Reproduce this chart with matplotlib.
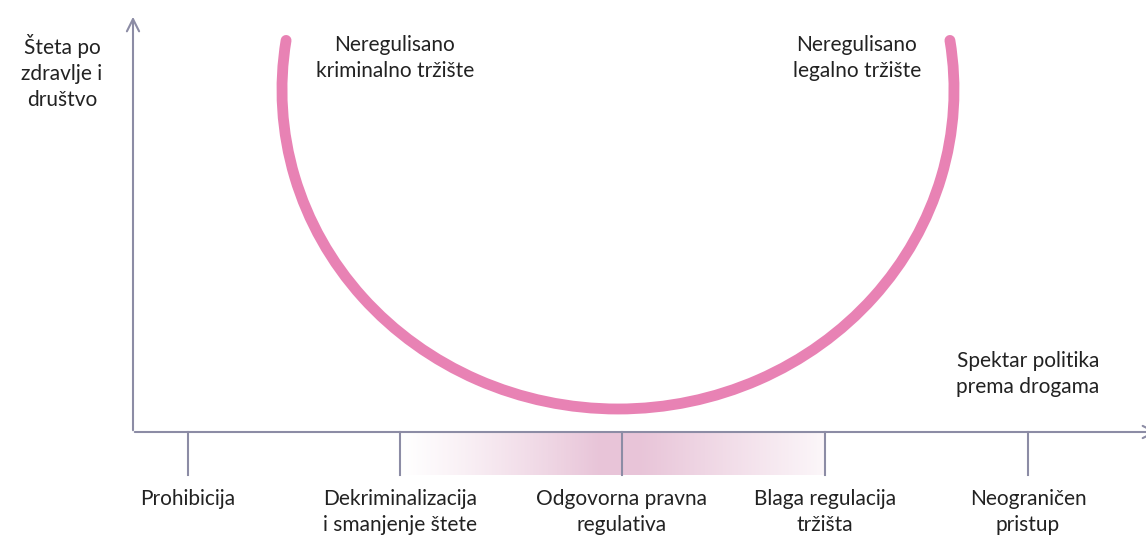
import numpy as np
import matplotlib
matplotlib.use('Agg')
import matplotlib.pyplot as plt
from matplotlib.patches import Arc

plt.rcParams['font.family'] = ['Lato', 'DejaVu Sans']

# policy spectrum (x positions in picture units, y grows downward)
policies = ['Prohibicija', 'Dekriminalizacija\ni smanjenje štete', 'Odgovorna pravna\nregulativa',
            'Blaga regulacija\ntržišta', 'Neograničen\npristup']
policy_x = [188, 400, 622, 825, 1028]

# harm curve: ellipse arc (center, size, angles)
curve_center = (618, 90)
curve_size = (672, 638)
curve_angles = (-8.5, 188.5)

axis_col = '#8c8ca5'
pink = '#e882b4'
band_col = (0.91, 0.77, 0.85)
txt_col = '#222222'
fs = 15

fig = plt.figure(figsize=(11.46, 5.39), dpi=100)
ax = fig.add_axes([0, 0, 1, 1])
ax.set_xlim(0, 1146)
ax.set_ylim(539, 0)
ax.axis('off')

# gradient band
gx = np.linspace(policy_x[1], policy_x[3], 400)
left = np.clip((gx - 400) / 200, 0, 1) ** 1.2
right = np.clip(1 - (gx - 640) / 215, 0.12, 1)
alpha = np.where(gx < 610, left, right)
img = np.zeros((2, gx.size, 4))
img[..., 0], img[..., 1], img[..., 2] = band_col
img[..., 3] = alpha
ax.imshow(img, extent=(policy_x[1], policy_x[3], 475, 432), aspect='auto', zorder=1)

# axes
ax.annotate('', xy=(133, 14), xytext=(133, 433), annotation_clip=False,
            arrowprops=dict(arrowstyle='->', color=axis_col, lw=1.5, mutation_scale=22))
ax.annotate('', xy=(1160, 432), xytext=(132, 432), annotation_clip=False,
            arrowprops=dict(arrowstyle='->', color=axis_col, lw=1.5, mutation_scale=22))

for x, lab in zip(policy_x, policies):
    ax.plot([x, x], [432, 475], color=axis_col, lw=1.5, zorder=2)
    ax.text(x, 489, lab, ha='center', va='top', fontsize=fs, color=txt_col, linespacing=1.4)

# curve
arc = Arc(curve_center, curve_size[0], curve_size[1], theta1=curve_angles[0], theta2=curve_angles[1],
          color=pink, lw=7.8, capstyle='round', zorder=3)
ax.add_patch(arc)

ax.text(62, 72, 'Šteta po\nzdravlje i\ndruštvo', ha='center', va='center', fontsize=fs,
        color=txt_col, linespacing=1.4)
ax.text(395, 58, 'Neregulisano\nkriminalno tržište', ha='center', va='center', fontsize=fs,
        color=txt_col, linespacing=1.4)
ax.text(857, 58, 'Neregulisano\nlegalno tržište', ha='center', va='center', fontsize=fs,
        color=txt_col, linespacing=1.4)
ax.text(1028, 374, 'Spektar politika\nprema drogama', ha='center', va='center', fontsize=fs,
        color=txt_col, linespacing=1.4)

fig.savefig('out.png', dpi=100)
